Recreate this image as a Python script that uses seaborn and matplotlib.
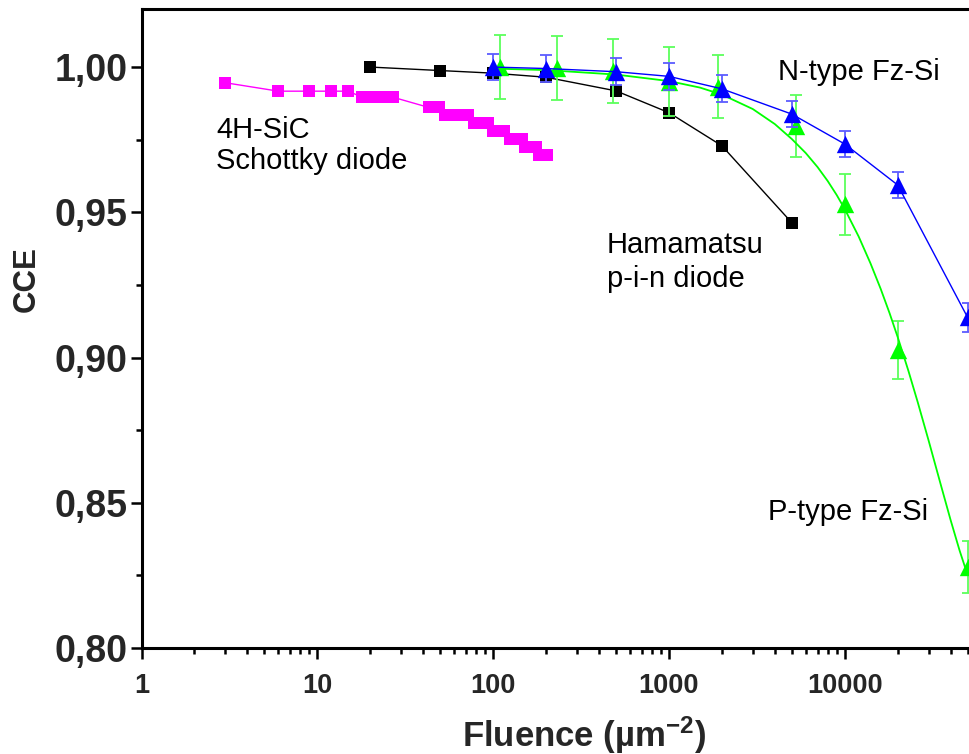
import matplotlib
matplotlib.use("Agg")
import matplotlib.pyplot as plt
from matplotlib import font_manager
from matplotlib.ticker import LogLocator, NullFormatter, MultipleLocator
import seaborn as sns

# ---------------- data ----------------
sic_x = [3, 6, 9, 12, 15, 18, 21, 24, 27, 43, 49, 53, 62, 72, 78, 86, 94,
         100, 108, 116, 124, 134, 146, 152, 163, 176, 182, 192, 203]
sic_y = [0.9946, 0.9917, 0.9917, 0.9917, 0.9917, 0.9896, 0.9896, 0.9896, 0.9896,
         0.9861, 0.9861, 0.9835, 0.9835, 0.9835, 0.9807, 0.9807, 0.9807,
         0.9781, 0.9781, 0.9781, 0.9752, 0.9752, 0.9752, 0.9725, 0.9725, 0.9725,
         0.9696, 0.9696, 0.9696]

ham_x = [20, 50, 100, 200, 500, 1000, 2000, 5000]
ham_y = [1.000, 0.9988, 0.9979, 0.9965, 0.9918, 0.9843, 0.9729, 0.9464]

n_x = [100, 200, 500, 1000, 2000, 5000, 10000, 20000, 50000]
n_y = [1.000, 0.9995, 0.9984, 0.9968, 0.9925, 0.9838, 0.9735, 0.9594, 0.9138]
n_err = [0.0046, 0.0046, 0.0046, 0.0046, 0.0046, 0.0046, 0.0046, 0.0046, 0.0049]

p_x = [110, 230, 480, 1000, 1900, 5300, 10000, 20000, 50000]
p_y = [1.000, 0.9997, 0.9988, 0.9950, 0.9933, 0.9797, 0.9527, 0.9026, 0.8279]
p_err = [0.011, 0.011, 0.011, 0.012, 0.011, 0.0107, 0.0105, 0.010, 0.009]

# smooth fit curve through the P-type points
pfit_x = [100, 200, 500, 1000, 1500, 2000, 3000, 4000, 5000, 6000, 7000, 8000,
          9000, 10000, 12000, 14000, 16000, 18000, 20000, 23000, 26000, 30000,
          35000, 40000, 45000, 50000]
pfit_y = [0.99948, 0.99897, 0.99742, 0.99518, 0.99294, 0.99053, 0.98554,
          0.98038, 0.97522, 0.97040, 0.96558, 0.96076, 0.95594, 0.95112,
          0.94165, 0.93246, 0.92368, 0.91522, 0.90706, 0.89549, 0.88465,
          0.87140, 0.85669, 0.84407, 0.83356, 0.82510]

y_ticks = [0.80, 0.85, 0.90, 0.95, 1.00]
y_tick_labels = ["0,80", "0,85", "0,90", "0,95", "1,00"]
x_ticks = [1, 10, 100, 1000, 10000]
x_tick_labels = ["1", "10", "100", "1000", "10000"]

# ---------------- style ----------------
sns.set_style("ticks")
names = {f.name for f in font_manager.fontManager.ttflist}
narrow = "Liberation Sans Narrow" if "Liberation Sans Narrow" in names else "Liberation Sans"
plt.rcParams["font.family"] = ["Liberation Sans", "DejaVu Sans"]
plt.rcParams["mathtext.default"] = "regular"

fig = plt.figure(figsize=(9.69, 7.54), dpi=100)
ax = fig.add_axes([0.1461, 0.1406, 0.9071, 0.8475])
ax.set_xscale("log")

# magenta SiC
sns.lineplot(x=sic_x, y=sic_y, ax=ax, color="#ff00ff", linewidth=1.0,
             marker="s", markersize=8.7, markeredgecolor="#ff00ff",
             markeredgewidth=0, estimator=None, zorder=2)
# black Hamamatsu
sns.lineplot(x=ham_x, y=ham_y, ax=ax, color="black", linewidth=1.0,
             marker="s", markersize=9, markeredgecolor="black",
             markeredgewidth=0, estimator=None, zorder=3)
# green P-type
ax.errorbar(p_x, p_y, yerr=p_err, fmt="none", ecolor="#5cff5c",
            elinewidth=1.3, capsize=4.5, capthick=1.3, zorder=4)
sns.lineplot(x=pfit_x, y=pfit_y, ax=ax, color="#00ff00", linewidth=1.3,
             estimator=None, zorder=4)
sns.scatterplot(x=p_x, y=p_y, ax=ax, color="#00ff00", marker="^", s=12.5**2,
                linewidth=0, zorder=5)
# blue N-type
ax.errorbar(n_x, n_y, yerr=n_err, fmt="none", ecolor="#5c5cff",
            elinewidth=1.3, capsize=4.5, capthick=1.3, zorder=6)
sns.lineplot(x=n_x, y=n_y, ax=ax, color="#0000ff", linewidth=1.0,
             estimator=None, zorder=6)
sns.scatterplot(x=n_x, y=n_y, ax=ax, color="#0000ff", marker="^", s=12.5**2,
                linewidth=0, zorder=7)

# axes
ax.set_xlim(1, 1e5)
ax.set_ylim(0.80, 1.02)
ax.set_xticks(x_ticks)
ax.set_xticklabels(x_tick_labels)
ax.xaxis.set_minor_locator(LogLocator(base=10, subs=range(2, 10), numticks=20))
ax.xaxis.set_minor_formatter(NullFormatter())
ax.set_yticks(y_ticks)
ax.set_yticklabels(y_tick_labels)
ax.yaxis.set_minor_locator(MultipleLocator(0.025))

for sp in ax.spines.values():
    sp.set_linewidth(2.2)
    sp.set_color("black")
ax.spines["right"].set_visible(False)

ax.tick_params(axis="both", which="major", direction="out", length=8, width=1.8,
               color="black", top=False, right=False)
ax.tick_params(axis="both", which="minor", direction="out", length=4.5, width=1.8,
               color="black", top=False, right=False)
ax.tick_params(axis="y", which="major", pad=2)
ax.tick_params(axis="x", which="major", pad=10)
for lab in ax.get_yticklabels():
    lab.set_fontsize(27)
    lab.set_fontweight("bold")
for lab in ax.get_xticklabels():
    lab.set_family([narrow, "DejaVu Sans"])
    lab.set_fontsize(19.5)
    lab.set_fontweight("bold")

ax.set_ylabel("CCE", fontsize=22.5, fontweight="bold")
ax.yaxis.set_label_coords(-0.113, 0.577)
ax.set_xlabel("Fluence (\u00b5m$^{\\mathregular{-2}}$)", fontsize=25,
              fontweight="bold", family=[narrow, "DejaVu Sans"])
ax.xaxis.set_label_coords(0.504, -0.104)
ax.xaxis.label.set_va("top")

# annotations
tk = dict(fontsize=21, color="black", ha="left", va="center")
ax.text(2.65, 0.9783, "4H-SiC", **tk)
ax.text(2.65, 0.9677, "Schottky diode", **tk)
ax.text(444, 0.9387, "Hamamatsu", **tk)
ax.text(444, 0.9270, "p-i-n diode", **tk)
ax.text(4170, 0.9983, "N-type Fz-Si", **tk)
ax.text(3660, 0.8469, "P-type Fz-Si", **tk)

fig.savefig("out.png", dpi=100)
